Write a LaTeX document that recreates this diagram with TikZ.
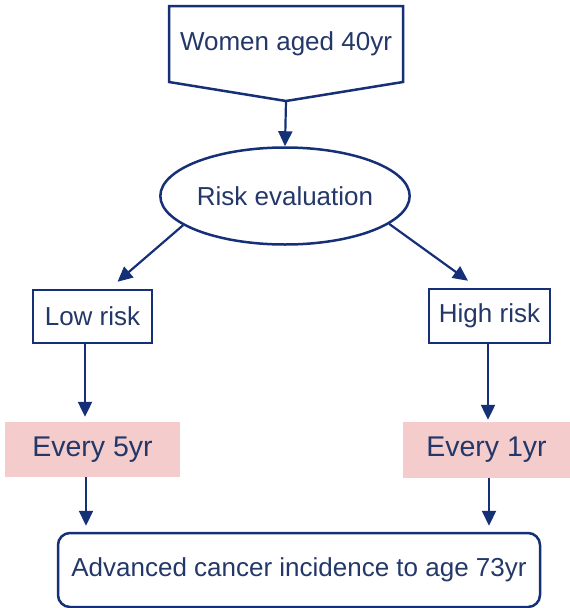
\documentclass[tikz,border=0pt]{standalone}
\usepackage{fontspec}
\setmainfont{Liberation Sans}
\usetikzlibrary{arrows.meta,shapes.geometric,calc}
\definecolor{txtblue}{RGB}{35,55,105}
\definecolor{lineblue}{RGB}{22,48,120}
\definecolor{pinkfill}{RGB}{245,204,204}
\begin{document}
\begin{tikzpicture}[x=1pt,y=-1pt,
  lbl/.style={text=txtblue,font=\fontsize{26}{30}\selectfont,inner sep=0pt},
  outl/.style={draw=lineblue,line width=2.5pt},
  boxnode/.style={lbl,outl,rectangle},
  freqbox/.style={lbl,rectangle,fill=pinkfill,font=\fontsize{28.5}{32}\selectfont},
  conn/.style={draw=lineblue,line width=2.2pt,-{Triangle[length=15pt,width=14pt]}}]
\useasboundingbox (0,0) rectangle (570,608);
% top pentagon
\draw[outl,line join=miter] (169,6) -- (403,6) -- (403,82) -- (286,101) -- (169,82) -- cycle;
\node[lbl] (women) at (286,44) {Women aged 40yr};
\coordinate (wtip) at (286,101);
\node[lbl,outl,ellipse,minimum width=240pt,minimum height=97pt] (risk) at (285,196) {Risk evaluation};
\node[boxnode,minimum width=119pt,minimum height=53pt] (low) at (92.5,316.5) {Low risk};
\node[boxnode,minimum width=121pt,minimum height=54pt] (high) at (489.5,316) {High risk};
\node[freqbox,minimum width=175pt,minimum height=55pt] (e5) at (92.5,449.5) {Every 5yr};
\node[freqbox,minimum width=167pt,minimum height=56pt] (e1) at (486.5,450) {Every 1yr};
\node[boxnode,rounded corners=12pt,minimum width=482pt,minimum height=74pt] (adv) at (299,570) {Advanced cancer incidence to age 73yr};
% connectors
\draw[conn] (wtip) -- (risk.north);
\draw[conn] (risk.196) -- ($(low.north)+(25,-7)$);
\draw[conn] (risk.-15) -- ($(high.north)+(-21.5,-7)$);
\draw[conn] ($(low.south)+(-7.5,0)$) -- ($(e5.north)+(-7.5,-5)$);
\draw[conn] ($(high.south)+(-1.5,0)$) -- ($(e1.north)+(1.5,-2)$);
\draw[conn] ($(e5.south)+(-6.5,0)$) -- ($(adv.north)+(-213,-6)$);
\draw[conn] ($(e1.south)+(2.5,0)$) -- ($(adv.north)+(190,-6)$);
\end{tikzpicture}
\end{document}
